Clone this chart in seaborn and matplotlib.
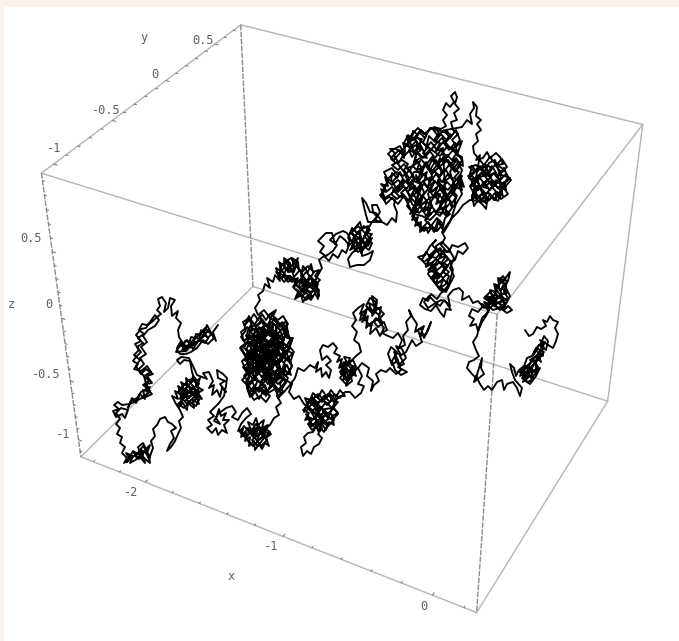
import numpy as np
import pandas as pd
import matplotlib
matplotlib.use("Agg")
import matplotlib.pyplot as plt
import seaborn as sns

# walk, section by section (picture plane, h then v)
band = [218,325,213,332,216,341,210,331,207,325,204,333,208,338,201,330,199,341,205,335,196,334,193,345,200,339,191,337,188,348,196,343,185,341,182,351,191,346,179,345,176,352,186,351,181,341,177,348,181,346,187,340,193,349,199,340,205,343,211,334,205,328,199,335,193,340,187,350,181,344,177,350,180,354,186,354,191,352,197,348,203,340,208,344,214,338,209,330,203,336,197,342,191,344,185,347,179,337]
arm = [178,330,181,323,176,318,178,311,172,316,171,306,175,300,170,298,168,308,164,312,166,303,162,297,158,299,160,306,157,310,161,314,156,318,152,322,147,325,142,324,139,330,144,334,138,338,143,343,137,347,141,352,136,357,133,361,138,364,134,369,141,371,147,366,151,372,144,376,149,381,143,385,148,389,152,394,146,397,150,387,141,392,137,398,131,401,128,408]
arm_rough = [132,398,136,403,140,394,145,399,143,390,150,392,146,384,152,383,147,376,153,374,146,369,141,374,136,366,140,360,134,355,139,350,135,344,141,341,136,335,141,329,146,328,150,322,155,315,159,320,155,326,148,330,143,336,147,342,141,347,146,354,140,358,144,364,138,370,144,376,146,384,150,392,142,398,136,401,130,404]
small_left = [122,405,118,402,114,405,119,409,113,411,116,417,122,414,125,418,128,410,121,408,116,413,120,419,116,424,120,428,117,434,122,437,120,443,125,447,122,453]
bottom = [127,458,124,463,130,459,126,453,133,456,130,463,137,459,134,452,141,455,138,447,143,443,146,449,150,445,147,453,141,450,144,459,139,456,145,463,144,458,150,463,149,455,143,446,137,454,131,458,127,462,133,451,139,459,145,451,149,459]
stalk = [153,448,151,441,155,436,153,429,157,425,160,419,165,417,168,422,172,424,176,428,171,431,174,438,170,444,167,451,171,447,175,441,178,434,181,428,179,421,183,417,180,410]
blob_a = [176,404,172,396,178,399,175,391,181,395,178,386,184,390,181,382,187,386,186,378,191,383,193,376,196,382,200,378,197,387,203,390,198,393,202,399,196,396,199,404,193,400,194,408,188,403,187,410,183,403,179,407,184,397,189,398,186,392,192,393,189,387,195,390,192,385,197,392,191,396,186,400,192,403,196,399,190,390,184,394,188,384,194,395,183,388,180,399,187,394,193,388,199,384,195,378,189,380,183,386,178,392,184,398,178,404,184,408,190,402,196,406,200,398,194,392,188,398,182,392,188,386,194,380,199,388,193,394,187,390,181,397,187,404,193,398,199,392,192,372,190,361,184,360,180,364,177,360,181,357,189,358,193,366,197,375]
blob_b = [207,379,203,373,209,372,213,381,209,388,214,385,212,395,217,390,220,397,222,388,226,392,220,384,225,381,218,378,217,370,223,374,227,378,226,386,224,396,219,403,214,408,210,412,214,416,208,420,212,425,207,428,212,433,216,428,218,435,222,430,227,433,224,425,229,420,223,420,226,413,221,416,219,409,216,418,220,424,214,421,218,414,226,408,232,406,236,412,232,417,238,420,242,413,247,408,251,414,246,418]
blob_c = [241,424,238,431,243,429,241,437,247,433,245,441,250,437,249,446,254,441,255,450,259,444,262,449,265,443,269,446,266,438,271,434,265,432,268,425,262,428,264,420,258,425,256,418,253,425,248,422,251,430,256,428,254,435,260,433,257,440,263,437,259,429,253,437,247,428,253,433,259,426,265,434,259,440,253,446,247,440,243,434,249,428,255,438,261,446,267,440,262,433,256,424,250,433,244,426,240,432,246,438,252,430,258,436,264,428,270,432,264,438,258,446,252,440,270,425,274,418,279,415,276,407,281,403,277,396,283,392,280,384]
big_mass = [284,378,278,384,272,378,275,389,268,393,265,385,259,392,254,386,250,393,246,384,242,380,248,374,243,367,249,362,244,354,240,348,246,344,241,337,246,330,243,322,249,318,254,324,250,332,256,328,253,338,259,334,256,344,262,340,259,350,265,346,262,356,268,352,265,362,271,358,268,368,274,364,271,374,277,370,274,378,280,372,276,362,282,358,278,349,284,345,280,336,286,332,281,323,276,328,278,340,272,335,274,347,268,341,270,353,264,348,266,360,260,355,262,367,256,362,258,373,252,368,254,378,248,384,252,356,246,350,250,342,256,350,252,362,258,356,264,366,258,372,264,380,268,372,262,376,268,384,272,370,278,376,284,368,288,374,292,366,288,358,294,352,289,346,293,338,287,338,283,330,288,324,283,316,278,320,273,316,276,310,270,314,266,320,262,314,258,320,254,314,250,320,256,326,262,322,268,328,274,324,270,336,264,330,258,340,264,338,272,344,266,352,272,350,278,356,274,342,282,350,276,334,268,334,260,344,254,334,248,340,244,348,250,352,244,360,252,364,258,350,266,344,262,334,270,328,278,338,284,340,280,330,272,322,264,326,256,332,250,326,246,336,254,342,260,348,268,356,274,354,280,362,286,354,282,344,276,350,270,362,264,358,258,366,252,372,246,368,252,378,260,382,266,376,272,384,278,390,284,384,288,378,282,372,276,380,270,388,264,394,258,388,252,396,248,390,254,400,260,396,266,402,270,396]
big_fill = [264,390,259,399,255,391,250,397,247,388,252,382,257,390,262,383,267,391,273,385,277,393,283,387,287,381,280,378,274,383,268,377,262,385,256,378,250,384,244,376,249,370,255,377,261,370,267,378,273,371,279,377,285,371,291,375,287,365,281,372,275,364,269,371,263,363,257,371,251,363,245,369,242,361,248,356,254,364,260,356,266,364,272,356,278,364,284,357,290,363,293,354,287,350,281,357,275,349,269,357,263,349,257,357,251,349,245,355,241,347,247,342,253,350,259,342,265,350,271,342,277,350,283,342,289,349,292,340,286,335,280,343,274,335,268,343,262,335,256,343,250,335,244,341,241,332,247,327,253,335,259,327,265,335,271,327,277,335,283,327,288,333,286,321,280,327,274,319,268,327,262,319,256,327,250,319,245,325,249,316,252,328,247,338,252,350,246,360,251,372,246,382,253,392,257,382,255,370,259,358,254,348,258,336,255,324,260,316,264,326,261,338,266,350,261,362,265,374,260,386,266,396,270,386,268,374,272,362,268,350,272,338,268,326,272,314,277,324,275,336,279,348,274,360,279,372,274,384,280,392,285,382,282,370,286,358,281,346,286,334,282,322,287,330,291,342,287,354,292,366,286,376,280,368,272,376,264,368,256,376,260,364,268,358,276,352,268,344,260,352,252,344,260,336,268,330,276,338,268,348,258,346,250,356,258,362,266,354,274,362,266,372,274,380,282,374,278,360,270,366,262,358,254,368,248,360,256,352,264,344,272,352,280,344,272,336,264,328,256,336,248,346,256,342,264,336,272,330,280,336,274,346,266,340,258,332,268,380,276,388]
middle = [278,398,284,392,290,385,295,378,298,368,304,371,310,365,315,368,318,362,316,372,321,368,322,377,326,372,329,378,331,370,326,365,331,361,327,356,322,360,320,350,323,345,328,347,333,343,337,348,334,353,340,356,337,362,342,359,339,368,345,364,341,374,347,370,343,380,349,376,346,386,352,381,350,372,356,376,352,366,357,369,353,360,348,364,344,357,350,358,346,368,351,373,345,378,340,372,346,362,352,370,346,380,342,366,350,378,354,366,348,372,344,362,340,366,346,370,340,378,346,384,352,376,356,370,350,364,350,362,356,356,361,352,359,344,354,340,357,332,352,326,356,320,353,313,358,308]
mid_fill = [364,304,360,314,366,310,362,322,368,316,366,328,372,322,370,334,376,328,380,336,384,328,378,320,384,314,378,308,372,316,376,302,370,298,366,306,372,310,378,314,382,322,376,318,370,326,364,318]
middle_top = [362,312,360,320,365,317,367,308,372,313,369,303,374,306,372,296,377,300,376,310,381,307,379,318,374,322,378,327,384,322,387,330,382,333,388,336,393,338,398,333,402,340,399,348,405,345,403,336,408,330,406,322,411,316,409,310,413,318,417,324,415,332,421,328,424,338,428,330,431,322,426,334,420,336,424,326,418,330,422,342,416,346,412,340,406,352,400,356,404,364,398,367,407,372,401,375,395,370,392,361,397,352,391,347,388,354,392,365,398,360,394,352,401,355,396,346,402,349,406,358,400,364,395,358,401,370,396,374,390,368,386,372,381,370,376,374,379,381,374,385,371,391,373,381,367,376,369,368,362,363,358,368,362,376,358,384,364,386,361,393,355,398,350,392]
lower_fill = [345,392,340,398,334,394,330,402,324,396,318,403,312,397,307,403,304,412,310,408,316,414,322,408,328,414,334,408,338,414,332,420,326,414,320,422,314,418,308,424,312,430,318,425,324,432,328,424,322,418,316,408,310,402,316,396,322,402,328,394,334,402,340,396]
lower_mass = [345,396,340,390,336,397,331,390,327,397,322,390,318,398,313,393,310,400,305,398,308,406,303,410,309,413,305,420,311,418,310,427,316,422,318,431,322,424,326,430,329,422,334,425,332,416,338,413,333,408,338,402,332,400,327,405,322,399,317,405,313,400,316,411,321,407,318,416,324,413,328,418,332,408,325,409,320,418,314,413,308,408,314,402,320,410,326,402,332,408,336,400,330,394,324,400,318,394,312,400,306,406,312,412,318,404,324,412,330,418,324,422,318,414,312,420,306,414,312,426,318,420,324,416,330,412,334,420,328,426,322,422,316,428,310,422,316,416,316,427,313,432,308,433,304,437,306,443,301,447,303,456,307,451,311,454,314,447,319,444,322,438,318,434,322,428,316,420,310,410,304,404,299,396,294,399,289,392,292,384,286,380]
back_up = [280,376,286,366,280,358,284,350,290,340,284,328,278,322,270,318,264,310,258,315,255,308,260,300,258,295,263,291,265,284,270,288]
upper_left = [267,278,273,282,275,275,280,281,276,268,282,272,279,262,285,267,284,258,290,263,288,272,294,268,292,258,298,262,299,271,294,277,288,282,283,276,289,276,297,280,293,287,298,292,295,299,301,295,303,302,307,296,311,300,315,293,318,299,319,290,315,285,320,280,315,276,319,270,313,272,311,264,308,272,303,266,301,276,306,280,302,286,308,288,313,282,309,276,305,290,311,292,316,288,310,284,304,279,299,285,305,294,298,296,303,288,309,296,315,288,319,296,314,280,308,286,302,278,296,284,290,276,284,282,278,274,284,268,290,272,296,266,302,272,308,266,314,272,309,280,303,292,297,286,291,268,285,262,291,258,297,266,303,276,309,284,315,292,318,284,312,278,306,272,300,280,306,288,312,296,306,300,300,292,294,288,298,278,292,282,286,276,280,268,286,260,292,266,298,258,294,272,288,266,282,278,276,272,312,288,318,275,322,268,319,260,324,256,329,261,333,254,338,258,342,250,346,253,349,245]
rising = [345,240,340,236,335,244,332,233,326,233,322,237,318,241,324,246,320,252,326,256,333,251,337,245,330,240,336,234,343,231,347,233,350,238,348,246,353,242,355,251,359,245,361,253,365,247,369,250,372,243,367,240,372,234,366,233,368,226,362,229,360,222,355,228,350,233,355,236,360,238,364,242,358,232,352,240,358,244,352,232,358,226,364,232,370,238,364,244,358,238,352,246,358,252,364,248,370,242,364,236,370,230,364,226,358,234,352,228,348,238,354,244,350,250,356,246,362,240,368,246,372,238,366,244,360,250,354,238,360,230,362,256,368,254,373,251,370,260,364,265,357,265,350,267,348,259,352,253,358,248,364,238,368,229,372,222,377,217,373,212,372,205,377,205,380,212,375,220,381,222,368,222,366,215,364,207,362,198,366,203,370,212,376,213,382,222,387,225,392,218,396,222,397,212,394,205]
top_left = [395,200,389,197,384,200,380,195,386,190,381,184,388,186,385,177,391,181,392,173,397,178,400,172,403,179,399,185,406,188,401,193,406,198,399,196,393,190,398,186,392,193,404,183,409,178,404,170,408,164,402,160,396,163,391,159,395,153,390,149,396,149,401,152,404,158,405,150,403,143,409,146,407,136,412,140,413,131,418,135,421,130,426,135,423,143,428,147,423,153,427,158,420,156,416,151,412,157,409,150,416,145,420,150,415,138,422,139,418,146]
top_centre = [414,165,420,161,417,170,424,167,421,176,427,172,424,181,431,177,428,186,434,182,430,192,437,188,433,198,440,194,436,204,443,200,439,210,446,206,440,216,434,211,428,216,431,207,424,211,427,201,420,206,423,196,416,201,419,191,412,196,415,186,410,190,412,180,418,183,416,175,422,186,414,207,410,214,416,211,412,220,418,217,415,226,421,222,420,232,426,227,428,233,432,226,436,231,438,223,443,227,445,218,450,214,445,209,450,203,454,207,456,197,450,192,456,187,462,190,460,181,454,178,459,172,453,169,458,163,463,166,462,157,456,154,452,160,447,155,444,163,440,158,437,165,432,160,428,168,434,171,440,176,446,170,450,177,444,182,438,180,444,190,448,196,442,204]
top_fill = [436,212,430,204,424,212,418,204,412,212,407,206,411,198,417,204,423,196,429,204,435,196,441,204,447,197,452,203,457,196,452,190,446,197,440,189,434,197,428,189,422,197,416,189,410,196,406,190,411,182,417,189,423,181,429,189,435,181,441,189,447,182,453,188,459,181,464,187,460,175,454,182,448,174,442,182,436,174,430,182,424,174,418,182,412,174,407,168,413,166,419,173,425,165,431,173,437,165,443,173,449,165,455,172,461,165,456,158,450,165,444,157,438,165,432,157,426,165,420,158,414,162,417,152,423,158,429,150,435,158,441,150,447,157,453,150,458,156,455,143,449,150,443,142,437,150,431,142,426,148,429,136,435,142,441,134,447,141,452,135,438,130,430,128,425,138,419,132,414,140,408,135,404,143,410,148,416,141,422,149,416,154,410,150,404,156,399,150,394,155,398,162,392,165,398,170,404,164,409,171,403,176,397,172,391,176,386,180,392,185,398,180,404,186,398,192,392,187,386,192,381,189,385,198,391,194,397,199,403,194,408,200,414,195,419,203,413,208,419,213,425,207,431,214,425,220,431,226,437,218,443,224,437,231,431,226,424,231,418,225,412,216,418,210]
top_fill2 = [412,204,408,192,414,180,410,170,416,160,422,168,418,180,424,192,420,204,426,216,432,206,428,194,434,182,430,170,436,160,442,170,438,182,444,194,440,206,446,216,452,208,448,196,454,184,450,172,456,160,462,170,458,182,462,194,456,204,450,222,444,232,438,220,434,232,428,222,422,228,416,220,410,208,404,196,398,204,392,198,386,204,382,194,388,180,384,172,392,168,398,176,392,182,398,190,404,180,410,186,404,172,398,164,404,154,400,146,392,150,388,154,394,160,406,146,412,134,418,128,424,134,432,128,438,136,444,130,450,138,456,130,460,140,454,148,446,148,440,156,432,150,424,144,416,136,410,142,414,152,420,144,426,156,434,146,442,138,448,146,456,152,462,160,456,170,448,160,440,166,432,174,426,162,420,172,414,172,408,182,416,192,424,184,432,192,440,184,448,190,456,180,462,176,454,192,446,202,438,194,430,198,422,204,414,214,422,216,430,220,438,212,446,214]
top_spike = [443,148,436,151,440,143,434,140,439,133,434,127,441,129,446,126,443,120,447,115,443,110,446,103,450,107,454,102,451,96,455,92,457,97,455,104,459,109,454,113,457,120,451,122,453,130,458,134,452,140,457,146,462,141,458,152,450,148,445,142,450,135,446,130,462,127,467,120,472,124,470,114,474,108,473,102,477,107,476,116,481,120,477,124,481,130,476,134,478,141,473,146,474,153]
right_fill = [478,158,484,165,490,157,496,165,502,159,507,167,501,172,495,165,489,172,483,165,477,172,472,166,470,174,476,180,482,173,488,180,494,173,500,180,506,174,511,180,505,187,499,180,493,187,487,180,481,187,475,180,470,186,474,194,480,187,486,194,492,187,498,194,504,188,508,194,501,199,495,193,489,200,483,193,477,199,473,191,480,198,486,203,492,197,498,201,502,192,496,186,490,177,484,170,478,176,472,182,478,190,484,182,490,190,496,180,502,186,508,178,504,168,498,176,492,166,486,176,480,166,474,172,468,176,474,184,480,178,486,186,492,180,498,188,504,182,500,194,494,200,488,192,482,200,476,194,472,200]
top_right = [480,155,476,160,483,158,487,152,490,158,496,153,500,157,503,164,497,165,505,170,499,174,510,178,505,183,506,190,500,187,503,196,497,192,495,200,490,194,486,201,483,193,478,197,474,191,479,186,471,186,476,180,469,178,475,172,469,167,476,165,481,170,486,165,492,168,488,176,494,173,499,180,493,184,487,180,483,187,490,189,496,184,501,178,495,160,489,163,483,176,477,178,480,188,484,197,476,203,474,206,472,195,483,205,486,209,487,202,470,200,463,205,458,212,452,218,447,225,442,232,445,238,441,245]
falling_fill = [447,252,435,250,429,256,436,258,442,252,448,259,442,265,436,259,430,265,436,271,442,266,449,272,443,278,437,272,431,278,437,284,443,279,449,285,444,290,438,286,433,280,440,275,446,268,440,262,433,268,428,262,433,254,440,248,446,256,451,262,445,268,439,278,434,272,428,270,435,264,441,256,436,250,431,258,426,252,422,260,427,266,433,262,428,274,434,282,440,290,446,292,450,284,454,276,450,268,454,258,448,248,442,242,436,246]
falling = [437,250,432,245,436,240,430,246,425,255,418,257,424,262,429,258,426,267,432,263,430,272,436,268,433,278,439,274,436,284,443,280,440,288,446,284,449,276,443,272,448,266,442,262,446,256,440,258,444,250,449,252,452,245,458,247,465,243,468,248,463,254,458,251,455,260,450,262,453,270,450,280,447,289,441,293,437,299,431,294,428,301,423,298,420,305,425,309,431,311,436,305,440,312,444,317,446,309,451,310,446,302,441,300,434,304,428,308,424,302,429,296,435,302,440,306,444,300,450,306,448,296,453,290,459,288,463,292,462,300,469,296,473,303,478,301]
corner_fill = [484,308,490,302,486,297,492,304,498,298,494,292,500,298,505,303,499,308,493,310,488,306,494,300,500,304,506,308,503,298,498,292,495,286,501,290,504,284,499,280,503,276,507,282,504,292,508,298,501,301,495,305,489,298,496,294,490,302,484,298,490,292,496,300,502,294,498,286,503,280,506,288,510,296,506,304,500,310,494,304,488,310,482,304]
corner_mass = [483,306,478,312,472,309,469,316,474,319,470,326,476,324,478,331,482,322,486,316,489,310,484,302,490,304,487,296,493,298,490,290,496,292,494,284,499,286,498,278,504,280,510,272,508,281,502,288,507,293,500,295,506,300,499,303,504,310,508,306,512,310,507,313,500,308,494,306,496,298,490,300,488,312,482,318,479,328,477,336,473,342,476,350,479,356,474,360,469,362,467,368,472,374,476,378]
tail = [482,358,481,368,484,374,479,378,474,382,476,376,480,384,484,390,488,386,492,390,497,382,502,380,504,390,507,384,513,382,517,388,520,396,522,388,515,380,512,372,510,364,514,368,516,376,519,370,524,366,520,376,526,372,523,382,530,376,527,366,533,370,531,378,537,372,535,362,530,360,536,356,541,362,538,352,543,356,541,346,546,350,548,341,544,336,541,344,536,348,532,356,527,358,522,372,529,366,526,378,520,372,526,366,532,373,538,367,534,360,528,365,522,370,528,375,534,378,528,382,522,378,527,371,533,365,539,359,544,352,538,349,533,355,539,345,545,342,530,372,524,380,530,384,536,376,540,368,534,372,528,368,532,360,538,354,544,348,540,340,548,345,553,348,556,341,558,334,555,328,558,322,553,320,550,316,547,322,543,320,546,326,541,329,537,327,533,334,529,336,525,330]

sections = [band, arm, arm_rough, small_left, bottom, stalk, blob_a, blob_b, blob_c, big_mass, big_fill, middle,
            mid_fill, middle_top, lower_fill, lower_mass, back_up, upper_left, rising, top_left, top_centre,
            top_fill, top_fill2, top_spike, right_fill, top_right, falling_fill, falling, corner_fill,
            corner_mass, tail]

# axis ranges and ticks
x_range = [-2.5, 0.28]
y_range = [-1.1, 0.78]
z_range = [-1.15, 1.05]
x_major = [-2, -1, 0]
y_major = [-1, -0.5, 0, 0.5]
z_major = [-1, -0.5, 0, 0.5]

# where the box corners sit in the picture
box_3d = [(0,0,1), (0,1,1), (0,0,0), (0,1,0), (1,0,0), (1,0,1), (1,1,1), (1,1,0)]
box_2d = [(42,172), (240,25), (81,457), (253,287), (476,613), (497,315), (643,125), (608,400)]

# fit the camera for the box (plain DLT)
rows = []
for (a, b, c), (u, v) in zip(box_3d, box_2d):
    rows.append([a, b, c, 1, 0, 0, 0, 0, -u*a, -u*b, -u*c, -u])
    rows.append([0, 0, 0, 0, a, b, c, 1, -v*a, -v*b, -v*c, -v])
cam = np.linalg.svd(np.array(rows, float))[2][-1].reshape(3, 4)

def project(x, y, z):
    a = (x - x_range[0]) / (x_range[1] - x_range[0])
    b = (y - y_range[0]) / (y_range[1] - y_range[0])
    c = (z - z_range[0]) / (z_range[1] - z_range[0])
    p = cam @ np.array([a, b, c, 1.0])
    return p[0] / p[2], p[1] / p[2]

sns.set_style("white")
fig = plt.figure(figsize=(6.79, 6.41), dpi=100, facecolor="#fdf2ea")
ax = fig.add_axes([4/679, 0, 675/679, 634/641])
ax.set_xlim(4, 679)
ax.set_ylim(641, 7)
ax.axis("off")
ax.add_patch(plt.Rectangle((4, 7), 675, 634, color="white", zorder=0))

def edge(p, q, dashed=False):
    a = project(*p)
    b = project(*q)
    ls = (0, (4, 1)) if dashed else "-"
    ax.plot([a[0], b[0]], [a[1], b[1]], color="#8c8c8c" if dashed else "#b4b4b4", lw=1.0, ls=ls, zorder=1)

x0, x1 = x_range
y0, y1 = y_range
z0, z1 = z_range
edge((x0,y0,z1), (x0,y1,z1))
edge((x0,y1,z1), (x1,y1,z1))
edge((x1,y1,z1), (x1,y0,z1))
edge((x1,y0,z1), (x0,y0,z1))
edge((x0,y0,z0), (x1,y0,z0))
edge((x1,y0,z0), (x1,y1,z0))
edge((x1,y1,z0), (x0,y1,z0))
edge((x0,y1,z0), (x0,y0,z0))
edge((x0,y1,z1), (x0,y1,z0), dashed=True)
edge((x1,y0,z1), (x1,y0,z0), dashed=True)
edge((x1,y1,z1), (x1,y1,z0))
edge((x0,y0,z1), (x0,y0,z0), dashed=True)

# small ticks every fifth of a major step
def tick(p, q):
    a = project(*p)
    b = project(*q)
    ax.plot([a[0], b[0]], [a[1], b[1]], color="#808080", lw=0.8, zorder=1)

for t in np.arange(-2.4, 0.28, 0.2):
    size = 0.02 if round(t, 1) in x_major else 0.012
    tick((t, y0, z0), (t, y0 + size, z0))
for t in np.arange(-1.0, 0.78, 0.1):
    size = 0.025 if round(t, 1) in y_major else 0.015
    tick((x0, t, z1), (x0 + size, t, z1))
for t in np.arange(-1.1, 1.05, 0.1):
    size = 0.025 if round(t, 1) in z_major else 0.015
    tick((x0, y0, t), (x0 + size, y0, t))

label_font = dict(family="DejaVu Sans Mono", color="#5e5e5e", fontsize=8.6, ha="center", va="center")
x_label_spots = [(131, 492), (271, 547), (424, 607)]
y_label_spots = [(54, 148), (106, 110), (155, 74), (203, 41)]
z_label_spots = [(63, 434), (46, 374), (49, 305), (31, 239)]
for t, spot in zip(x_major, x_label_spots):
    ax.text(spot[0], spot[1], str(t), **label_font)
for t, spot in zip(y_major, y_label_spots):
    ax.text(spot[0], spot[1], str(t), **label_font)
for t, spot in zip(z_major, z_label_spots):
    ax.text(spot[0], spot[1], str(t), **label_font)
ax.text(144, 38, "y", **label_font)
ax.text(11, 305, "z", **label_font)
ax.text(231, 577, "x", **label_font)

walk = np.concatenate([np.array(s, float).reshape(-1, 2) for s in sections])
df = pd.DataFrame({"h": walk[:, 0], "v": walk[:, 1]})
sns.lineplot(data=df, x="h", y="v", sort=False, estimator=None, color="black", lw=1.35, ax=ax, zorder=3)
ax.set_xlim(4, 679)
ax.set_ylim(641, 7)

fig.savefig("out.png", dpi=100)
